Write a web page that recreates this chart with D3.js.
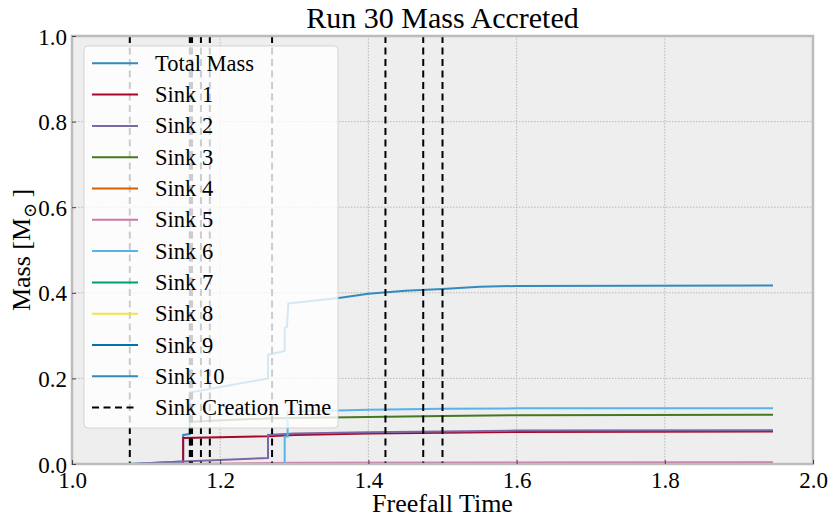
<!DOCTYPE html>
<html>
<head>
<meta charset="utf-8">
<script src="https://cdn.jsdelivr.net/npm/d3@7"></script>
<style>
  body { margin: 0; background: #fff; }
  text { font-family: "Liberation Serif", "DejaVu Serif", serif; fill: #000; }
</style>
</head>
<body>
<div id="chart"></div>
<script>
// chart data
let xTicks = [1.0, 1.2, 1.4, 1.6, 1.8, 2.0];
let yTicks = [0.0, 0.2, 0.4, 0.6, 0.8, 1.0];

let seriesNames = ["Total Mass", "Sink 1", "Sink 2", "Sink 3", "Sink 4", "Sink 5",
                   "Sink 6", "Sink 7", "Sink 8", "Sink 9", "Sink 10"];
let seriesColors = ["#348ABD", "#A60628", "#7A68A6", "#467821", "#D55E00", "#CC79A7",
                    "#56B4E9", "#009E73", "#F0E442", "#0072B2", "#348ABD"];

// [freefall time, mass]
let totalMass = [[1.078, 0.000], [1.150, 0.006], [1.150, 0.068], [1.159, 0.070], [1.159, 0.167],
                 [1.2645, 0.200], [1.2645, 0.255], [1.287, 0.264], [1.287, 0.318], [1.290, 0.320],
                 [1.292, 0.375], [1.36, 0.388], [1.40, 0.398], [1.45, 0.405], [1.50, 0.409],
                 [1.55, 0.414], [1.60, 0.416], [1.946, 0.417]];
let sink1 = [[1.078, 0.000], [1.150, 0.000], [1.150, 0.061], [1.2645, 0.065], [1.30, 0.068],
             [1.40, 0.071], [1.50, 0.073], [1.60, 0.075], [1.946, 0.076]];
let sink2 = [[1.078, 0.000], [1.150, 0.006], [1.2645, 0.014], [1.2645, 0.068], [1.30, 0.071],
             [1.40, 0.074], [1.50, 0.076], [1.60, 0.078], [1.946, 0.079]];
let sink3 = [[1.159, 0.099], [1.27, 0.107], [1.40, 0.110], [1.50, 0.112], [1.60, 0.114], [1.946, 0.115]];
let sink4 = [[1.162, 0.000], [1.40, 0.001], [1.946, 0.001]];
let sink5 = [[1.174, 0.000], [1.30, 0.003], [1.946, 0.004]];
let sink6 = [[1.186, 0.000], [1.287, 0.000], [1.287, 0.064], [1.291, 0.064], [1.291, 0.122],
             [1.40, 0.127], [1.50, 0.129], [1.60, 0.130], [1.946, 0.130]];
let sink7 = [[1.270, 0.000], [1.946, 0.000]];
let sink8 = [[1.423, 0.000], [1.946, 0.000]];
let sink9 = [[1.474, 0.000], [1.946, 0.000]];
let sink10 = [[1.500, 0.000], [1.946, 0.000]];

let creationTimes = [1.078, 1.159, 1.160, 1.162, 1.174, 1.186, 1.270, 1.423, 1.474, 1.500];

let allSeries = [totalMass, sink1, sink2, sink3, sink4, sink5, sink6, sink7, sink8, sink9, sink10];

let w = 831;
let h = 520;
let padLeft = 72, padRight = 813, padTop = 36, padBottom = 464;

let viz = d3.select("#chart")
  .append("svg")
    .attr("width", w)
    .attr("height", h)
;

let x = d3.scaleLinear().domain([1.0, 2.0]).range([padLeft, padRight]);
let y = d3.scaleLinear().domain([0.0, 1.0]).range([padBottom, padTop]);

// background
viz.append("rect")
    .attr("x", padLeft).attr("y", padTop)
    .attr("width", padRight - padLeft).attr("height", padBottom - padTop)
    .attr("fill", "#eeeeee");

// grid
let grid = viz.append("g").attr("class", "grid");
grid.selectAll(".gx").data(xTicks.slice(1, -1)).enter().append("line")
    .attr("x1", d => x(d)).attr("x2", d => x(d))
    .attr("y1", padTop).attr("y2", padBottom)
    .attr("stroke", "#b2b2b2").attr("stroke-width", 0.9)
    .attr("stroke-dasharray", "1.5,1.5");
grid.selectAll(".gy").data(yTicks.slice(1, -1)).enter().append("line")
    .attr("x1", padLeft).attr("x2", padRight)
    .attr("y1", d => y(d)).attr("y2", d => y(d))
    .attr("stroke", "#b2b2b2").attr("stroke-width", 0.9)
    .attr("stroke-dasharray", "1.5,1.5");

viz.append("clipPath").attr("id", "clip")
  .append("rect")
    .attr("x", padLeft).attr("y", padTop)
    .attr("width", padRight - padLeft).attr("height", padBottom - padTop);

let plot = viz.append("g").attr("clip-path", "url(#clip)");

let lineFunction = d3.line()
  .x(d => x(d[0]))
  .y(d => y(d[1]));

plot.selectAll(".series").data(allSeries).enter().append("path")
    .attr("d", d => lineFunction(d))
    .attr("fill", "none")
    .attr("stroke", (d, i) => seriesColors[i])
    .attr("stroke-width", 2)
    .attr("stroke-linejoin", "miter");

plot.selectAll(".creation").data(creationTimes).enter().append("line")
    .attr("x1", d => x(d)).attr("x2", d => x(d))
    .attr("y1", y(1.0)).attr("y2", y(0.0))
    .attr("stroke", "#000").attr("stroke-width", 2)
    .attr("stroke-dasharray", "7,4.5");

// frame
viz.append("rect")
    .attr("x", padLeft).attr("y", padTop)
    .attr("width", padRight - padLeft).attr("height", padBottom - padTop)
    .attr("fill", "none")
    .attr("stroke", "#bcbcbc").attr("stroke-width", 2.5);

// axes
let xAxis = viz.append("g")
    .attr("transform", "translate(0," + padBottom + ")")
    .call(d3.axisBottom(x).tickValues(xTicks).tickSize(-4).tickPadding(8)
      .tickFormat(d3.format(".1f")));
let yAxis = viz.append("g")
    .attr("transform", "translate(" + padLeft + ",0)")
    .call(d3.axisLeft(y).tickValues(yTicks).tickSize(-4).tickPadding(5)
      .tickFormat(d3.format(".1f")));
[xAxis, yAxis].forEach(a => {
  a.select(".domain").remove();
  a.selectAll(".tick line").attr("stroke", "#444");
  a.selectAll(".tick text")
    .attr("font-size", 23)
    .attr("fill", "#000");
});
xAxis.selectAll(".tick text").attr("dy", "0.68em");
yAxis.selectAll(".tick text").attr("dy", "0.35em");

// title and labels
viz.append("text")
    .attr("x", (padLeft + padRight) / 2).attr("y", 28)
    .attr("text-anchor", "middle")
    .attr("font-size", 30)
    .text("Run 30 Mass Accreted");

viz.append("text")
    .attr("x", (padLeft + padRight) / 2).attr("y", 512)
    .attr("text-anchor", "middle")
    .attr("font-size", 26)
    .text("Freefall Time");

let yLabel = viz.append("text")
    .attr("transform", "translate(30," + ((padTop + padBottom) / 2) + ") rotate(-90)")
    .attr("text-anchor", "middle")
    .attr("font-size", 26);
yLabel.append("tspan").text("Mass [M");
yLabel.append("tspan").attr("font-size", 18).attr("dy", 6).text("\u2299");
yLabel.append("tspan").attr("dy", -6).text("\u2009]");

// legend
let legend = viz.append("g").attr("class", "legend");
legend.append("rect")
    .attr("x", 84).attr("y", 46)
    .attr("width", 254).attr("height", 382)
    .attr("rx", 4)
    .attr("fill", "#ffffff").attr("fill-opacity", 0.8)
    .attr("stroke", "#cccccc").attr("stroke-opacity", 0.8);

let legendItems = seriesNames.map((n, i) => ({ name: n, color: seriesColors[i], dash: null }));
legendItems.push({ name: "Sink Creation Time", color: "#000", dash: "7,4.5" });

let rows = legend.selectAll(".row").data(legendItems).enter().append("g")
    .attr("transform", (d, i) => "translate(0," + (63.3 + 31.3 * i) + ")");
rows.append("line")
    .attr("x1", 92).attr("x2", 138)
    .attr("stroke", d => d.color).attr("stroke-width", 2)
    .attr("stroke-dasharray", d => d.dash);
rows.append("text")
    .attr("x", 155).attr("y", 7.5)
    .attr("font-size", 22.5)
    .text(d => d.name);
</script>
</body>
</html>
